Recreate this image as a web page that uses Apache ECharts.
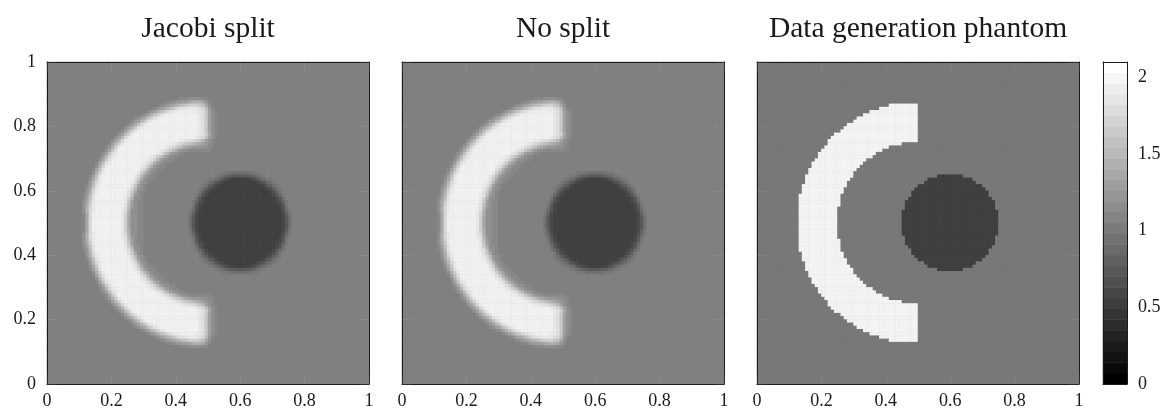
<!DOCTYPE html>
<html><head><meta charset="utf-8">
<style>html,body{margin:0;padding:0;background:#fff}#c{width:1171px;height:414px}</style>
<script src="https://cdn.jsdelivr.net/npm/echarts@6/dist/echarts.min.js"></script>
</head><body><div id="c"></div>
<script>
// Titles and tick labels
const panelTitles = ['Jacobi split', 'No split', 'Data generation phantom'];
const colorbarTicks = [0, 0.5, 1, 1.5, 2];

// Phantom values
const phantomBackground = 0.988;
const phantomCrescent = 2.0;
const phantomDisc = 0.519;
// Index = rows away from the horizontal mid-line; columns of a 100x100 cell grid
const phantomCrescentStart = [13,13,13,13,13,13,13,13,13,14,14,14,15,15,15,16,16,17,17,18,19,19,20,21,22,22,23,24,26,27,28,30,31,33,35,38,41];
const phantomCrescentEnd   = [25,25,25,25,25,26,26,26,26,27,27,28,28,29,30,30,31,32,33,34,36,37,39,41,45,50,50,50,50,50,50,50,50,50,50,50,50];
const phantomDiscStart = [45,45,45,45,46,46,46,47,48,48,49,50,52,53,56];
const phantomDiscEnd   = [75,75,75,75,74,74,74,73,72,72,71,70,68,67,64];

// Reconstructed panels: one character per cell, gray step of 8/255 per base-36 digit
const reconstructionStepValue = 0.0659;
const reconstructionBackground = 'g';
const reconstructedDiscCore = '8';
const reconstructedCrescentStart = [11,11,11,11,11,11,11,11,11,12,12,12,13,13,13,14,14,15,15,16,16,17,18,18,19,20,21,22,23,24,25,26,27,29,31,33,35,37,41];
const reconstructedCrescent = [
 "hlruuuuuuuuutqliihh",
 "hlruuuuuuuuutqliihh",
 "hlruuuuuuuuutqmiihh",
 "imrtuuuuuuuutrmiihh",
 "imrtuuuuuuuutsnjihh",
 "ilqtuuuuuuuuusokihh",
 "ilptuuuuuuuuutpkihh",
 "hkosuuuuuuuuutqmiih",
 "hjnsuuuuuuuuutsojih",
 "jmrtuuuuuuuuusplih",
 "ilqtuuuuuuuuutrnjih",
 "hkosuuuuuuuuuuspkih",
 "jnrtuuuuuuuuutrnjih",
 "ilptuuuuuuuuuusplihh",
 "hkosuuuuuuuuuutrnkihh",
 "imqtuuuuuuuuuutqnkihh",
 "hkosuuuuuuuuuuusqmjihh",
 "imqtuuuuuuuuuutspmjihh",
 "hkostuuuuuuuuuutspmkihh",
 "ilpsuuuuuuuuuuutsqnkiihh",
 "hjnrtuuuuuuuuuuutsqoljihh",
 "ikostuuuuuuuuuuuutspnkjihh",
 "ilpsuuuuuuuuuuuuutsrpnljiihhhhhhh",
 "hjmqtuuuuuuuuuuuuuutsrpomlkjjjiihh",
 "hknqtuuuuuuuuuuuuuuutsrqponmlkjih",
 "iknrtuuuuuuuuuuuuuuuuttssrqpnkih",
 "iknrtuuuuuuuuuuuuuuuuuuuutsrokih",
 "iknqtuuuuuuuuuuuuuuuuuuuutsqlih",
 "iknqsuuuuuuuuuuuuuuuuuuutspkih",
 "ikmpstuuuuuuuuuuuuuuuuutspkih",
 "hjlortuuuuuuuuuuuuuuuutspkih",
 "hjknpstuuuuuuuuuuuuuutspkih",
 "hikloqstuuuuuuuuuuuutspkih",
 "hikmoqstuuuuuuuuuutspkih",
 "hjkmoprsttuuuuuttspkih",
 "hiklmoprssttttsrojh",
 "hijklmnopqqqpoli",
 "hhijjkklmmmljh",
 "hhhiiiihh"
];
const reconstructedDiscStart = [44,44,44,44,45,45,45,46,46,47,47,48,49,50,52,54];
const reconstructedDiscEnd   = [76,76,76,76,75,75,75,74,74,73,73,72,71,70,68,66];
const reconstructedDiscEdge  = ["eb9","eb9","fc9","fda","eb9","fb9","fda9","eb9","fdb9","fca9","feca9","fecb9","fedba9","ffedba9","ffedccbb","fffeee"];

// Colour bar bands, bottom to top
const colorbarBands = [0,0.072,0.145,0.217,0.29,0.362,0.434,0.507,0.579,0.652,0.724,0.797,0.869,0.941,1.014,1.086,1.159,1.231,1.303,1.376,1.448,1.521,1.593,1.666,1.738,1.81,1.883,1.955,2.028,2.1];

const N = 100;
const cellNames = []; for (let i = 0; i < N; i++) cellNames.push(String(i));
const level = c => parseInt(c,36)*reconstructionStepValue;

function blank(v){ const g=[]; for(let y=0;y<N;y++) g.push(new Array(N).fill(v)); return g; }
function setBoth(g,k,x,v){ g[N/2+k][x]=v; g[N/2-1-k][x]=v; }
function paintSpan(g,k,a,b,v){ for(let x=a;x<b;x++) setBoth(g,k,x,v); }
function toData(g){ const d=[]; for(let y=N-1;y>=0;y--) for(let x=0;x<N;x++) d.push([x,y,g[y][x]]); return d; }

const phantomGrid = blank(phantomBackground);
phantomCrescentStart.forEach((s,k)=>paintSpan(phantomGrid,k,s,phantomCrescentEnd[k],phantomCrescent));
phantomDiscStart.forEach((s,k)=>paintSpan(phantomGrid,k,s,phantomDiscEnd[k],phantomDisc));

const reconGrid = blank(level(reconstructionBackground));
reconstructedCrescent.forEach((t,k)=>{ for(let i=0;i<t.length;i++) setBoth(reconGrid,k,reconstructedCrescentStart[k]+i,level(t[i])); });
reconstructedDiscEdge.forEach((t,k)=>{
  const a=reconstructedDiscStart[k], b=reconstructedDiscEnd[k];
  paintSpan(reconGrid,k,a,b,level(reconstructedDiscCore));
  for(let i=0;i<t.length;i++){ setBoth(reconGrid,k,a+i,level(t[i])); setBoth(reconGrid,k,b-1-i,level(t[i])); }
});

const FONT='"Liberation Serif"';
const panels=[
 {left:47,title:0,yLabels:true,grid:reconGrid,bg:'#808080'},
 {left:402,title:1,yLabels:false,grid:reconGrid,bg:'#808080'},
 {left:757,title:2,yLabels:false,grid:phantomGrid,bg:'#787878'}];
const TICK='rgba(255,255,255,0.07)', LINE='#1a1a1a', TOP=62, SIZE=322, LABEL=18;

const option={animation:false,backgroundColor:'#fff',grid:[],xAxis:[],yAxis:[],series:[],title:[],
  visualMap:{type:'continuous',show:false,min:0,max:2.1,inRange:{color:['#000000','#ffffff']},seriesIndex:[0,1,2,3]}};

function valueAxis(g,pos,labels,ticks,extra){
  return Object.assign({type:'value',gridIndex:g,position:pos,min:0,max:1,interval:0.2,z:6,silent:true,
    axisLine:{show:true,onZero:false,lineStyle:{color:LINE,width:1}},
    axisTick:{show:ticks,inside:true,length:10,lineStyle:{color:TICK,width:1}},
    splitLine:{show:false},
    axisLabel:{show:labels,color:'#1a1a1a',fontFamily:FONT,fontSize:LABEL,margin:11}},extra||{});
}

panels.forEach((p,g)=>{
  option.grid.push({left:p.left,top:TOP,width:SIZE,height:SIZE,show:true,backgroundColor:p.bg,borderWidth:0});
  const xBase=option.xAxis.length, yBase=option.yAxis.length;
  option.xAxis.push({type:'category',gridIndex:g,data:cellNames,show:false});
  option.yAxis.push({type:'category',gridIndex:g,data:cellNames,show:false});
  option.xAxis.push(valueAxis(g,'bottom',true,true,{axisLabel:{show:true,color:'#1a1a1a',fontFamily:FONT,fontSize:LABEL,margin:8}}));
  option.xAxis.push(valueAxis(g,'top',false,true));
  option.yAxis.push(valueAxis(g,'left',p.yLabels,true));
  option.yAxis.push(valueAxis(g,'right',false,true));
  option.series.push({type:'heatmap',xAxisIndex:xBase,yAxisIndex:yBase,data:toData(p.grid),progressive:0,silent:true,emphasis:{disabled:true}});
  option.title.push({text:panelTitles[p.title],left:p.left+SIZE/2,top:14,padding:0,textAlign:'center',
    textStyle:{fontFamily:FONT,fontWeight:'normal',fontSize:29.5,color:'#1a1a1a'}});
});

// Colour bar
(function(){
  const g=panels.length, xBase=option.xAxis.length, yBase=option.yAxis.length;
  option.grid.push({left:1103,top:TOP,width:24,height:SIZE,show:false});
  option.xAxis.push({type:'category',gridIndex:g,data:['c'],show:false});
  option.yAxis.push({type:'category',gridIndex:g,data:colorbarBands.map(String),show:false});
  option.xAxis.push(valueAxis(g,'bottom',false,false));
  option.xAxis.push(valueAxis(g,'top',false,false));
  option.yAxis.push(valueAxis(g,'left',false,false,{max:2.1,interval:0.5}));
  option.yAxis.push(valueAxis(g,'right',true,false,{max:2.1,interval:0.5,
    axisLabel:{show:true,color:'#1a1a1a',fontFamily:FONT,fontSize:LABEL,margin:11,customValues:colorbarTicks}}));
  option.series.push({type:'heatmap',xAxisIndex:xBase,yAxisIndex:yBase,progressive:0,silent:true,emphasis:{disabled:true},
    data:colorbarBands.map((v,i)=>[0,i,v])});
})();

echarts.init(document.getElementById('c'),null,{renderer:'canvas'}).setOption(option);
</script></body></html>
